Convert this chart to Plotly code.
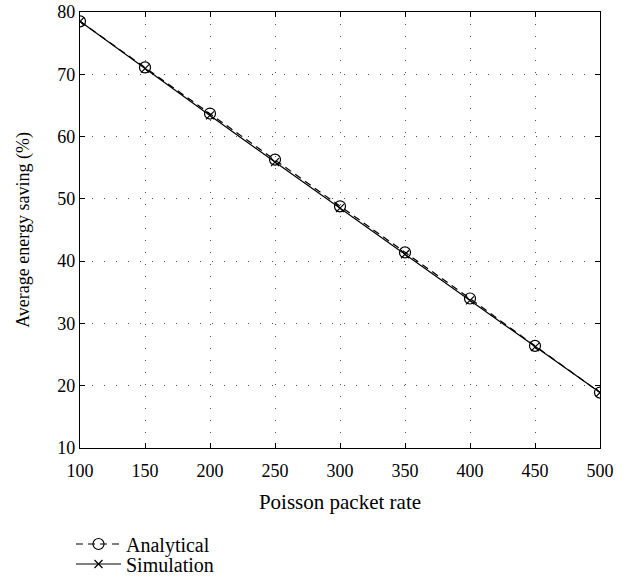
import plotly.graph_objects as go

rate = [100, 150, 200, 250, 300, 350, 400, 450, 500]
analytical = [78.5, 71.1, 63.7, 56.3, 48.8, 41.4, 34.0, 26.4, 18.9]
simulation = [78.5, 70.9, 63.4, 55.9, 48.5, 41.1, 33.7, 26.2, 18.9]

x_ticks = [100, 150, 200, 250, 300, 350, 400, 450, 500]
y_ticks = [10, 20, 30, 40, 50, 60, 70, 80]

font_family = "Liberation Serif"

fig = go.Figure()
fig.add_trace(go.Scatter(
    x=rate, y=analytical, name="Analytical", mode="lines+markers",
    line=dict(color="black", width=1.2, dash="7px,5px"),
    marker=dict(symbol="circle-open", size=11, color="black", line=dict(width=1.2)),
    legend="legend",
))
fig.add_trace(go.Scatter(
    x=rate, y=simulation, name="Simulation", mode="lines+markers",
    line=dict(color="black", width=1.2),
    marker=dict(symbol="x-thin-open", size=8, color="black", line=dict(width=1.2)),
    legend="legend2",
))

axis_common = dict(
    showline=True, linecolor="black", linewidth=1.2, mirror="ticks",
    ticks="inside", ticklen=5, tickcolor="black", tickwidth=1,
    showgrid=True, gridcolor="#555", griddash="1px,11px", gridwidth=1,
    zeroline=False, automargin=False,
    tickfont=dict(family=font_family, size=18, color="black"),
)

fig.update_xaxes(
    range=[100, 500], tickvals=x_ticks, ticklabelstandoff=6,
    title=dict(text="Poisson packet rate", font=dict(family=font_family, size=21, color="black"), standoff=14),
    **axis_common,
)
fig.update_yaxes(
    range=[10, 80], tickvals=y_ticks,
    title=dict(text="Average energy saving (%)", font=dict(family=font_family, size=18, color="black"), standoff=22),
    **axis_common,
)

legend_common = dict(
    xanchor="left", yanchor="middle",
    orientation="v", bgcolor="rgba(0,0,0,0)",
    font=dict(family=font_family, size=20, color="black"),
    itemwidth=45, tracegroupgap=0,
)

fig.update_layout(
    width=628, height=583,
    margin=dict(l=80, r=28, t=12, b=135, autoexpand=False),
    plot_bgcolor="white", paper_bgcolor="white",
    font=dict(family=font_family, color="black"),
    showlegend=True,
    legend=dict(x=(71 - 80) / 520, y=(448 - 544) / 436, **legend_common),
    legend2=dict(x=(71 - 80) / 520, y=(448 - 564) / 436, **legend_common),
)

fig.write_html("out.html")
